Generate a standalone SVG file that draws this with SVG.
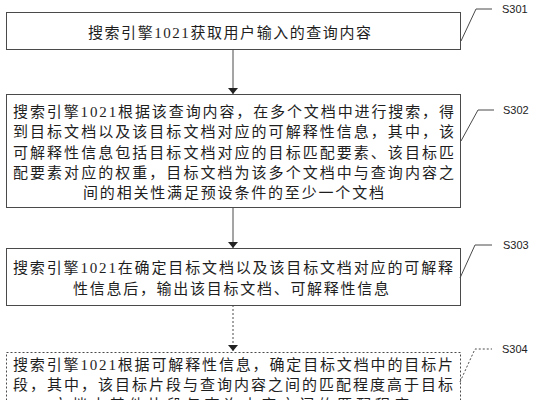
<svg xmlns="http://www.w3.org/2000/svg" width="536" height="400" viewBox="0 0 536 400">
<defs>
<style>
.box{fill:#fff;stroke:#4a4a4a;stroke-width:1}
.dash{stroke-dasharray:2 2}
.t{font-family:"Liberation Serif","Noto Sans CJK SC",serif;font-size:15px;fill:#1e1e1e}
.lbl{font-family:"Liberation Sans",Arial,sans-serif;font-size:11px;fill:#222}
.ln{fill:none;stroke:#4a4a4a;stroke-width:1}
</style>
<marker id="ah" viewBox="0 0 6 10" refX="6" refY="5" markerWidth="6" markerHeight="10" markerUnits="userSpaceOnUse" orient="auto">
<path d="M0,0 L6,5 L0,10 Z" fill="#222"/>
</marker>
</defs>
<rect width="536" height="400" fill="#fff"/>
<g id="connectors">
<line class="ln" x1="233" y1="50" x2="233" y2="94" marker-end="url(#ah)"/>
<line class="ln" x1="233" y1="207" x2="233" y2="248" marker-end="url(#ah)"/>
<line class="ln dash" x1="233" y1="305" x2="233" y2="351" marker-end="url(#ah)"/>
</g>
<g id="S301">
<rect class="box" x="6.5" y="12.5" width="454" height="37"/>
<text class="t" x="88" y="37.5" textLength="283" lengthAdjust="spacing">搜索引擎1021获取用户输入的查询内容</text>
<polyline class="ln" points="461,41 476,9 492,9"/>
<text class="lbl" x="502" y="13">S301</text>
</g>
<g id="S302">
<rect class="box" x="6.5" y="94.5" width="454" height="113"/>
<text class="t" x="13" y="117" textLength="441" lengthAdjust="spacing">搜索引擎1021根据该查询内容，在多个文档中进行搜索，得</text>
<text class="t" x="13" y="137" textLength="441" lengthAdjust="spacing">到目标文档以及该目标文档对应的可解释性信息，其中，该</text>
<text class="t" x="13" y="157.5" textLength="441" lengthAdjust="spacing">可解释性信息包括目标文档对应的目标匹配要素、该目标匹</text>
<text class="t" x="13" y="177.5" textLength="441" lengthAdjust="spacing">配要素对应的权重，目标文档为该多个文档中与查询内容之</text>
<text class="t" x="83" y="198" textLength="301" lengthAdjust="spacing">间的相关性满足预设条件的至少一个文档</text>
<polyline class="ln" points="461,141 478,110 494,110"/>
<text class="lbl" x="503" y="114">S302</text>
</g>
<g id="S303">
<rect class="box" x="6.5" y="248.5" width="454" height="57"/>
<text class="t" x="13" y="272.5" textLength="440" lengthAdjust="spacing">搜索引擎1021在确定目标文档以及该目标文档对应的可解释</text>
<text class="t" x="73" y="293.5" textLength="316" lengthAdjust="spacing">性信息后，输出该目标文档、可解释性信息</text>
<polyline class="ln" points="460,278 475,245 492,245"/>
<text class="lbl" x="503" y="249">S303</text>
</g>
<g id="S304">
<rect class="box dash" x="6.5" y="352.5" width="454" height="70"/>
<text class="t" x="13" y="369.5" textLength="440" lengthAdjust="spacing">搜索引擎1021根据可解释性信息，确定目标文档中的目标片</text>
<text class="t" x="13" y="389.5" textLength="440" lengthAdjust="spacing">段，其中，该目标片段与查询内容之间的匹配程度高于目标</text>
<text class="t" x="53" y="410" textLength="356" lengthAdjust="spacing">文档中其他片段与查询内容之间的匹配程度</text>
<polyline class="ln dash" points="460,382 475,349 492,349"/>
<text class="lbl" x="502" y="353">S304</text>
</g>
</svg>
